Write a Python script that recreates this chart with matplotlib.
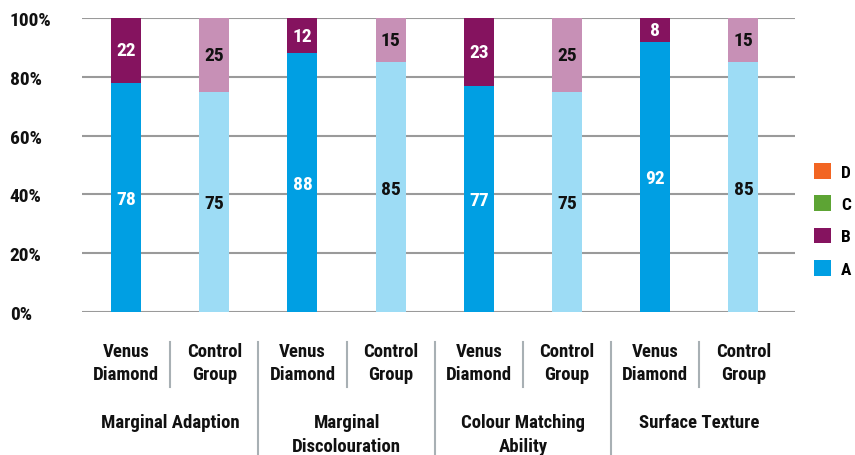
import matplotlib
matplotlib.use("Agg")
import matplotlib.pyplot as plt
from matplotlib import font_manager
from matplotlib.patches import Patch
from matplotlib.transforms import blended_transform_factory
from matplotlib.lines import Line2D
import numpy as np

# ---- data ----
bar_labels = ["Venus\nDiamond", "Control\nGroup"] * 4
groups = ["Marginal Adaption", "Marginal\nDiscolouration", "Colour Matching\nAbility", "Surface Texture"]
A_vals = [78, 75, 88, 85, 77, 75, 92, 85]
B_vals = [22, 25, 12, 15, 23, 25, 8, 15]
C_vals = [0, 0, 0, 0, 0, 0, 0, 0]
D_vals = [0, 0, 0, 0, 0, 0, 0, 0]
yticks = [0, 20, 40, 60, 80, 100]
ytick_labels = ["0%", "20%", "40%", "60%", "80%", "100%"]
legend_labels = ["D", "C", "B", "A"]

# ---- font ----
names = {f.name for f in font_manager.fontManager.ttflist}
fam = None
for cand in ["Roboto Condensed", "Liberation Sans Narrow", "DejaVu Sans Condensed", "Open Sans Condensed"]:
    if cand in names:
        fam = cand
        break
families = ([fam] if fam else []) + ["DejaVu Sans"]
plt.rcParams["font.family"] = families
plt.rcParams["font.weight"] = "bold"

A_dark, A_light = "#009FE3", "#9DDCF5"
B_dark, B_light = "#85135F", "#C790B6"
C_col, D_col = "#5DA434", "#F26522"
grid_col = "#9a9a9a"
txt = "#111111"

fig = plt.figure(figsize=(8.55, 4.56), dpi=100)
ax = fig.add_axes([82/855, 1-313/456, (795-82)/855, (313-19)/456])

x = np.arange(len(A_vals))
venus = (x % 2 == 0)
a_cols = [A_dark if v else A_light for v in venus]
b_cols = [B_dark if v else B_light for v in venus]
w = 0.34
A = np.array(A_vals); B = np.array(B_vals); C = np.array(C_vals); D = np.array(D_vals)
ax.bar(x, A, width=w, color=a_cols, zorder=3)
ax.bar(x, B, width=w, bottom=A, color=b_cols, zorder=3)
ax.bar(x, C, width=w, bottom=A+B, color=C_col, zorder=3)
ax.bar(x, D, width=w, bottom=A+B+C, color=D_col, zorder=3)

for i in range(len(x)):
    tc = "white" if venus[i] else txt
    ax.text(x[i], A[i]/2 - 0.5, str(A[i]), ha="center", va="center", color=tc, fontsize=14, zorder=4)
    ax.text(x[i], A[i] + B[i]/2, str(B[i]), ha="center", va="center", color=tc, fontsize=14, zorder=4)

ax.set_xlim(-0.5, 7.585)
ax.set_ylim(0, 100)
ax.set_yticks(yticks)
ax.set_yticklabels(ytick_labels, fontsize=14, color=txt)
for lab in ax.get_yticklabels():
    lab.set_horizontalalignment("left")
ax.tick_params(axis="y", length=0, pad=52)
ax.set_xticks([])
ax.yaxis.grid(True, color=grid_col, linewidth=1.5, zorder=0)
for s in ax.spines.values():
    s.set_visible(False)

trans = blended_transform_factory(ax.transData, fig.transFigure)
for i, lab in enumerate(bar_labels):
    ax.text(x[i], 1-363.5/456, lab, transform=trans, ha="center", va="center",
            fontsize=13.5, linespacing=1.4, color=txt, clip_on=False)
for g, lab in enumerate(groups):
    ax.text(2*g + 0.5, 1-414/456, lab, transform=trans, ha="center", va="top",
            fontsize=13.5, linespacing=1.4, color=txt, clip_on=False)

sep_col = "#a8b0b4"
for g in range(4):
    xs = 2*g + 0.5
    ax.add_line(Line2D([xs, xs], [1-343/456, 1-388/456], transform=trans, color=sep_col,
                       linewidth=1.5, clip_on=False))
for g in range(3):
    xs = 2*g + 1.5
    ax.add_line(Line2D([xs, xs], [1-343/456, 0], transform=trans, color=sep_col,
                       linewidth=1.5, clip_on=False))

handles = [Patch(facecolor=D_col), Patch(facecolor=C_col), Patch(facecolor=B_dark), Patch(facecolor=A_dark)]
fig.legend(handles, legend_labels, loc="upper left", bbox_to_anchor=(814/855, 1-164/456),
           frameon=False, fontsize=12.5, handlelength=1.0, handleheight=1.0,
           handletextpad=0.55, labelspacing=0.9, borderpad=0, borderaxespad=0)

fig.savefig("out.png", dpi=100)
